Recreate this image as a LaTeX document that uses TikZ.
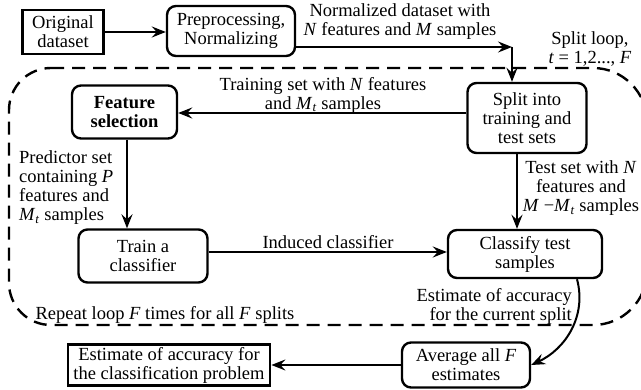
\documentclass[tikz,border=0pt]{standalone}
\usepackage{fontspec}
\setmainfont{Liberation Serif}
\usetikzlibrary{arrows.meta}
\begin{document}
\begin{tikzpicture}[x=1pt,y=-1pt,
  every node/.style={font=\fontsize{18.5}{19}\selectfont, inner sep=0pt},
  rbox/.style={draw, line width=2.4pt, rounded corners=9pt, align=center},
  sbox/.style={draw, line width=2.8pt, align=center},
  lbl/.style={align=center},
  arr/.style={line width=2pt, -{Stealth[length=14pt,width=11pt,inset=5pt]}},
  loopline/.style={line width=2.4pt, dash pattern=on 13pt off 8pt}
]
\useasboundingbox (0,0) rectangle (641,390);
% dashed loop
\begin{scope}
\clip (0,0) rectangle (641,390);
\draw[loopline] (51,68) -- (593,68) arc[start angle=-90,end angle=0,radius=54]
  -- (647,271) arc[start angle=0,end angle=90,radius=54]
  -- (51,325) arc[start angle=90,end angle=180,radius=42]
  -- (9,110) arc[start angle=180,end angle=270,radius=42] -- cycle;
\end{scope}
% nodes
\node[sbox, minimum width=81pt, minimum height=44pt] (orig) at (63,32) {Original\\dataset};
\node[rbox, minimum width=128pt, minimum height=50pt] (prep) at (231,31) {Preprocessing,\\Normalizing};
\node[rbox, minimum width=105pt, minimum height=53pt, font=\fontsize{18.5}{19}\selectfont\bfseries] (feat) at (124.5,112) {Feature\\selection};
\node[rbox, minimum width=119pt, minimum height=70pt] (split) at (527,118) {Split into\\training and\\test sets};
\node[rbox, minimum width=129pt, minimum height=53pt] (train) at (143,256) {Train a\\classifier};
\node[rbox, minimum width=154pt, minimum height=48pt] (classify) at (525,254) {Classify test\\samples};
\node[rbox, minimum width=128pt, minimum height=45pt] (avg) at (466,365) {Average all \textit{F}\\estimates};
\node[sbox, minimum width=202pt, minimum height=41pt] (final) at (169,365) {Estimate of accuracy for\\the classification problem};
% labels
\node[lbl] (lnorm) at (400,22) {Normalized dataset with\\\textit{N} features and \textit{M} samples};
\node[lbl] (lloop) at (590,49) {Split loop,\\\textit{t} = 1,2..., \textit{F}};
\node[lbl] (ltrain) at (323,95) {Training set with \textit{N} features\\and \textit{M}\textsubscript{\textit{t}} samples};
\node[align=left, anchor=west] (lpred) at (19,187.5) {Predictor set\\containing \textit{P}\\features and\\\textit{M}\textsubscript{\textit{t}} samples};
\node[lbl] (ltest) at (581,188) {Test set with \textit{N}\\features and\\\textit{M} −\textit{M}\textsubscript{\textit{t}} samples};
\node[lbl] (lind) at (328,242) {Induced classifier};
\node[lbl] (lrep) at (165,315) {Repeat loop \textit{F} times for all \textit{F} splits};
\node[align=right, anchor=east] (lest) at (572,306) {Estimate of accuracy\\for the current split};
% connectors
\coordinate (c1) at (512,47);
\draw[arr] (orig.east) -- (orig.east -| prep.west);
\draw[arr] (prep.east |- c1) -- (c1);
\draw[arr] (c1) -- (c1 |- split.north);
\draw[arr] (split.west |- 0,113) -- (feat.east |- 0,113);
\draw[arr] ([xshift=2.5pt]feat.south) -- ([xshift=2.5pt]feat.south |- train.north);
\draw[arr] ([xshift=-10pt]split.south) -- ([xshift=-10pt]split.south |- classify.north);
\draw[arr] (train.east |- 0,252) -- (classify.west |- 0,252);
\draw[arr] ([xshift=52pt]classify.south) to[out=-75,in=25] (avg.east);
\draw[arr] (avg.west) -- (final.east);
\end{tikzpicture}
\end{document}
